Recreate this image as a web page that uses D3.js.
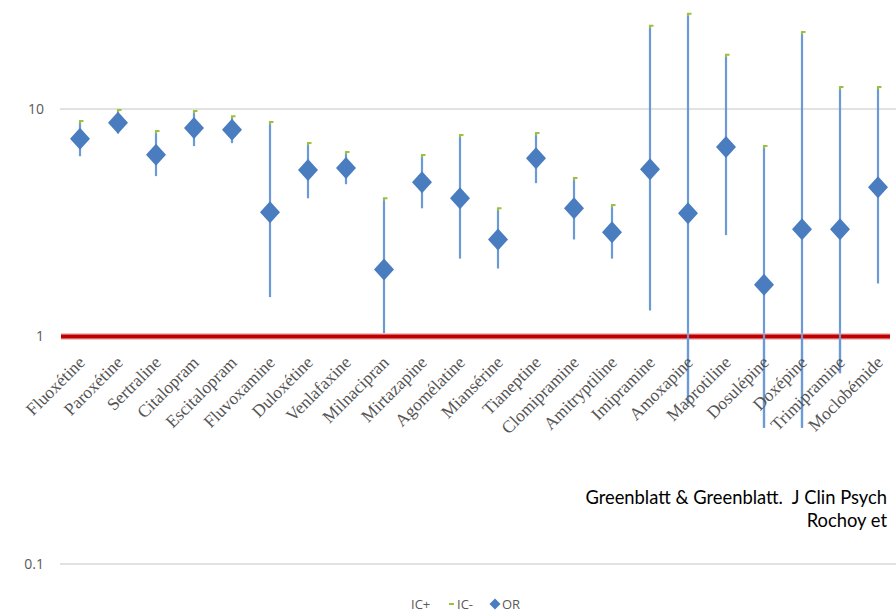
<!DOCTYPE html>
<html>
<head>
<meta charset="utf-8">
<script src="https://cdn.jsdelivr.net/npm/d3@7"></script>
<style>
  html, body { margin: 0; padding: 0; background: #fff; }
  svg { display: block; }
</style>
</head>
<body>
<svg id="chart" width="896" height="613"></svg>
<script>
// Antidepressants: odds ratio with confidence interval bounds
const drugs = ["Fluoxétine", "Paroxétine", "Sertraline", "Citalopram", "Escitalopram",
  "Fluvoxamine", "Duloxétine", "Venlafaxine", "Milnacipran", "Mirtazapine",
  "Agomélatine", "Miansérine", "Tianeptine", "Clomipramine", "Amitryptiline",
  "Imipramine", "Amoxapine", "Maprotiline", "Dosulépine", "Doxépine",
  "Trimipramine", "Moclobémide"];
const orValues = [7.4, 8.7, 6.3, 8.25, 8.1, 3.52, 5.4, 5.5, 1.97, 4.77, 4.05, 2.67,
  6.08, 3.66, 2.87, 5.44, 3.48, 6.8, 1.69, 2.96, 2.96, 4.53];
const icUpper = [8.85, 9.9, 8.0, 9.8, 9.3, 8.77, 7.08, 6.47, 4.05, 6.27, 7.68, 3.66,
  7.84, 4.97, 3.78, 23.2, 26.2, 17.3, 6.87, 21.8, 12.5, 12.5];
const icLower = [6.2, 7.8, 5.07, 6.87, 7.08, 1.49, 4.05, 4.67, 1.0, 3.66, 2.2, 1.99,
  4.72, 2.67, 2.2, 1.3, 0.507, 2.79, 0.397, 0.397, 0.69, 1.71];
const yTicks = [0.1, 1, 10];
const legendItems = ["IC+", "IC-", "OR"];
const sourceLines = ["Greenblatt & Greenblatt.  J Clin Psych", "Rochoy et"];

const svg = d3.select("#chart");

const x = d3.scaleBand().domain(drugs).range([61, 897]).padding(0);
const y = d3.scaleLog().domain([0.1, 10]).range([564, 109]);
const cx = d => x(d) + x.bandwidth() / 2;

const greyText = "#595959";
const blueMark = "#4a7cc0";
const blueLine = "#6b9ad6";
const greenCap = "#9bc13f";

// value axis labels; gridlines at 0.1 and 10, reference line at 1 drawn in red
const yAxis = d3.axisLeft(y).tickValues(yTicks).tickFormat(d => String(d))
  .tickSize(0).tickPadding(0);
const gAxis = svg.append("g").attr("transform", "translate(44,0)").call(yAxis);
gAxis.select(".domain").remove();
gAxis.selectAll("text")
  .attr("fill", greyText)
  .style("font-family", "'Open Sans', 'Liberation Sans', sans-serif")
  .style("font-size", "14px");

svg.append("g").selectAll("line")
  .data(yTicks.filter(t => t !== 1))
  .join("line")
  .attr("x1", 60).attr("x2", 896)
  .attr("y1", d => y(d)).attr("y2", d => y(d))
  .attr("stroke", "#d9d9d9").attr("stroke-width", 1.5);

// confidence interval sticks
const rows = drugs.map((d, i) => ({ name: d, or: orValues[i], hi: icUpper[i], lo: icLower[i] }));

svg.append("g").selectAll("line")
  .data(rows)
  .join("line")
  .attr("x1", d => cx(d.name)).attr("x2", d => cx(d.name))
  .attr("y1", d => y(d.lo)).attr("y2", d => y(d.hi))
  .attr("stroke", blueLine).attr("stroke-width", 2.2);

// reference line OR = 1
svg.append("line")
  .attr("x1", 61).attr("x2", 890)
  .attr("y1", y(1)).attr("y2", y(1))
  .attr("stroke", "#f3c4c4").attr("stroke-width", 7);
svg.append("line")
  .attr("x1", 61).attr("x2", 890)
  .attr("y1", y(1)).attr("y2", y(1))
  .attr("stroke", "#c00000").attr("stroke-width", 4);

// parts of the sticks lying below the reference line stay visible over it
svg.append("g").selectAll("line")
  .data(rows.filter(d => d.lo < 1))
  .join("line")
  .attr("x1", d => cx(d.name)).attr("x2", d => cx(d.name))
  .attr("y1", d => y(d.lo)).attr("y2", d => y(1) - 3)
  .attr("stroke", blueLine).attr("stroke-width", 2.2);

// upper bound caps
svg.append("g").selectAll("path")
  .data(rows)
  .join("path")
  .attr("d", d => {
    const px = cx(d.name), py = y(d.hi);
    return `M${px},${py + 2.5}V${py}H${px + 3.5}`;
  })
  .attr("fill", "none")
  .attr("stroke", greenCap).attr("stroke-width", 2);

// odds ratio diamonds
const diamond = (px, py, w, h) => {
  const p = d3.path();
  p.moveTo(px, py - h);
  p.lineTo(px + w, py);
  p.lineTo(px, py + h);
  p.lineTo(px - w, py);
  p.closePath();
  return p.toString();
};
svg.append("g").selectAll("path")
  .data(rows)
  .join("path")
  .attr("d", d => diamond(cx(d.name), y(d.or), 10, 11))
  .attr("fill", blueMark);

// category labels
svg.append("g").selectAll("text")
  .data(drugs)
  .join("text")
  .attr("transform", d => `translate(${cx(d) + 6},${y(1) + 27}) rotate(-45)`)
  .attr("text-anchor", "end")
  .attr("fill", "#555")
  .style("font-family", "'Liberation Serif', 'DejaVu Serif', serif")
  .style("font-size", "17.5px")
  .text(d => d);

// source note, right-aligned; font size chosen so the first line spans ~302px
const note = svg.append("g")
  .attr("fill", "#000")
  .style("font-family", "Lato, 'Open Sans', sans-serif")
  .style("font-size", "18px");
const noteText = note.selectAll("text")
  .data(sourceLines)
  .join("text")
  .attr("x", 887)
  .attr("y", (d, i) => 504 + i * 23)
  .attr("text-anchor", "end")
  .style("white-space", "pre")
  .text(d => d);
const firstWidth = noteText.node().getComputedTextLength();
if (firstWidth > 0) note.style("font-size", (18 * 302 / firstWidth).toFixed(2) + "px");

// legend
const lg = svg.append("g")
  .style("font-family", "'Open Sans', 'Liberation Sans', sans-serif")
  .style("font-size", "13px")
  .attr("fill", greyText);
lg.append("text").attr("x", 411).attr("y", 609).text(legendItems[0]);
lg.append("line").attr("x1", 449).attr("x2", 454).attr("y1", 604).attr("y2", 604)
  .attr("stroke", greenCap).attr("stroke-width", 2);
lg.append("text").attr("x", 457).attr("y", 609).text(legendItems[1]);
lg.append("path").attr("d", diamond(495, 604, 5.5, 5.5)).attr("fill", blueMark);
lg.append("text").attr("x", 502).attr("y", 609).text(legendItems[2]);
</script>
</body>
</html>
